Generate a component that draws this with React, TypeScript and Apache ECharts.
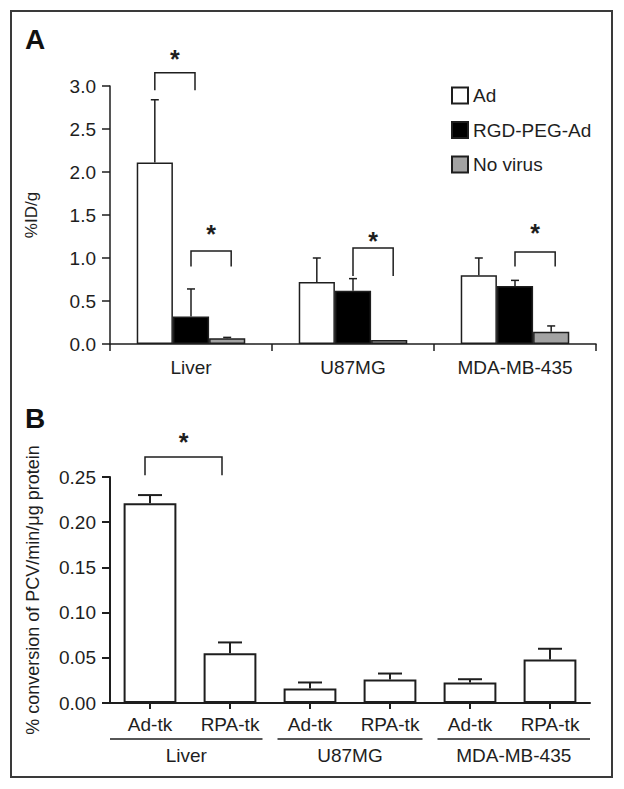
import React, { useEffect, useRef } from 'react';
import * as echarts from 'echarts';

// ---------- Panel A data ----------
const tissues = ['Liver', 'U87MG', 'MDA-MB-435'];
const virusNames = ['Ad', 'RGD-PEG-Ad', 'No virus'];
const adValues = [2.11, 0.72, 0.8];
const adErrors = [0.73, 0.28, 0.2];
const rgdValues = [0.32, 0.62, 0.675];
const rgdErrors = [0.32, 0.14, 0.065];
const noVirusValues = [0.066, 0.047, 0.143];
const noVirusErrors = [0.011, 0, 0.067];
const yTicksA = [0, 0.5, 1, 1.5, 2, 2.5, 3];
// [category, fromBar, toBar, bracketTop, legBottom, starY]
const bracketsA = [
  [0, 0, 1, 3.155, 2.95, 3.38],
  [0, 1, 2, 1.08, 0.9, 1.35],
  [1, 1, 2, 1.116, 0.79, 1.27],
  [2, 1, 2, 1.07, 0.9, 1.36],
];

// ---------- Panel B data ----------
const groupsB = ['Liver', 'U87MG', 'MDA-MB-435'];
const vectorsB = ['Ad-tk', 'RPA-tk'];
const conversionValues = [0.221, 0.055, 0.016, 0.026, 0.0227, 0.048];
const conversionErrors = [0.009, 0.012, 0.0067, 0.0066, 0.0036, 0.012];
const yTicksB = [0, 0.05, 0.1, 0.15, 0.2, 0.25];
// [fromCat, toCat, bracketTop, legBottom, starY]
const bracketsB = [[0, 1, 0.272, 0.252, 0.295]];

export default function App() {
  const ref = useRef<HTMLDivElement>(null);
  useEffect(() => {
    const chart = echarts.init(ref.current!, null, { renderer: 'svg' });
    const font = 'Liberation Sans, Arial, Helvetica, sans-serif';
    const ink = '#1e1e1e';
    const fs = 19;
    const catGapA = 0.33;
    const catGapB = 0.34;

    const seriesValsA = [adValues, rgdValues, noVirusValues];
    const seriesErrsA = [adErrors, rgdErrors, noVirusErrors];
    const fills = ['#ffffff', '#000000', '#a3a3a3'];

    const errDataA: number[][] = [];
    seriesValsA.forEach((vals, s) =>
      vals.forEach((v, i) => errDataA.push([i, s, v, seriesErrsA[s][i]]))
    );

    const catsB: string[] = [];
    groupsB.forEach((g) => vectorsB.forEach((v) => catsB.push(g + '|' + v)));
    const errDataB = conversionValues.map((v, i) => [i, v, conversionErrors[i]]);
    const groupData = groupsB.map((g, gi) => [gi * 2, gi * 2 + 1, gi]);

    const lineStyle = (w: number) => ({ stroke: ink, lineWidth: w });
    const starStyle = (x: number, y: number) => ({
      text: '*', x, y: y + 6, align: 'center', verticalAlign: 'middle',
      fontSize: 25, fontWeight: 'bold', fontFamily: font, fill: ink,
    });

    const option: any = {
      animation: false,
      backgroundColor: '#fff',
      textStyle: { fontFamily: font, color: ink },
      grid: [
        { left: 110, right: 28, top: 86, height: 258 },
        { left: 110, right: 34, top: 477, height: 226 },
      ],
      legend: {
        data: virusNames,
        orient: 'vertical',
        left: 446,
        top: 81,
        icon: 'rect',
        itemWidth: 16,
        itemHeight: 16,
        itemGap: 15.5,
        textStyle: { fontSize: fs, color: ink, fontFamily: font, lineHeight: 18 },
      },
      xAxis: [
        {
          gridIndex: 0,
          type: 'category',
          data: tissues,
          axisLine: { lineStyle: { color: ink, width: 1.5 } },
          axisTick: { show: true, length: 7, lineStyle: { color: ink, width: 1.5 } },
          axisLabel: { fontSize: fs, color: ink, fontFamily: font, margin: 14 },
        },
        {
          gridIndex: 1,
          type: 'category',
          data: catsB,
          axisLine: { lineStyle: { color: ink, width: 2 } },
          axisTick: { show: true, alignWithLabel: true, length: 6, lineStyle: { color: ink, width: 2 } },
          axisLabel: {
            fontSize: fs,
            color: ink,
            fontFamily: font,
            margin: 12,
            interval: 0,
            formatter: (v: string) => v.split('|')[1],
          },
        },
      ],
      yAxis: [
        {
          gridIndex: 0,
          type: 'value',
          min: yTicksA[0],
          max: yTicksA[yTicksA.length - 1],
          interval: 0.5,
          name: '%ID/g',
          nameLocation: 'middle',
          nameGap: 70,
          nameTextStyle: { fontSize: 17, color: ink, fontFamily: font },
          axisLine: { show: true, lineStyle: { color: ink, width: 1.5 } },
          axisTick: { show: true, length: 8, lineStyle: { color: ink, width: 1.5 } },
          splitLine: { show: false },
          axisLabel: { fontSize: fs, color: ink, fontFamily: font, margin: 14, formatter: (v: number) => v.toFixed(1) },
        },
        {
          gridIndex: 1,
          type: 'value',
          min: yTicksB[0],
          max: yTicksB[yTicksB.length - 1],
          interval: 0.05,
          name: '% conversion of PCV/min/\u03bcg protein',
          nameLocation: 'middle',
          nameGap: 68,
          nameTextStyle: { fontSize: 18, color: ink, fontFamily: font },
          axisLine: { show: true, lineStyle: { color: ink, width: 2 } },
          axisTick: { show: true, length: 8, lineStyle: { color: ink, width: 2 } },
          splitLine: { show: false },
          axisLabel: { fontSize: fs, color: ink, fontFamily: font, margin: 14, formatter: (v: number) => v.toFixed(2) },
        },
      ],
      series: [
        ...seriesValsA.map((vals, s) => ({
          type: 'bar',
          name: virusNames[s],
          xAxisIndex: 0,
          yAxisIndex: 0,
          data: vals,
          barGap: '0%',
          barCategoryGap: catGapA * 100 + '%',
          itemStyle: { color: fills[s], borderColor: ink, borderWidth: 1.5 },
          emphasis: { disabled: true },
        })),
        {
          type: 'custom',
          name: 'errA',
          xAxisIndex: 0,
          yAxisIndex: 0,
          z: 5,
          encode: { x: 0, y: 2 },
          data: errDataA,
          renderItem: (params: any, api: any) => {
            const cat = api.value(0);
            const s = api.value(1);
            const v = api.value(2);
            const e = api.value(3);
            if (!(e > 0)) return { type: 'group', children: [] };
            const band = api.size([1, 0])[0];
            const barW = (band * (1 - catGapA)) / 3;
            const base = api.coord([cat, v]);
            const top = api.coord([cat, v + e]);
            const x = base[0] + (s - 1) * barW;
            return {
              type: 'group',
              children: [
                { type: 'line', shape: { x1: x, y1: base[1], x2: x, y2: top[1] }, style: lineStyle(1.5) },
                { type: 'line', shape: { x1: x - 4, y1: top[1], x2: x + 4, y2: top[1] }, style: lineStyle(1.5) },
              ],
            };
          },
        },
        {
          type: 'custom',
          name: 'bracketsA',
          xAxisIndex: 0,
          yAxisIndex: 0,
          z: 6,
          encode: { x: 0, y: 3 },
          data: bracketsA,
          renderItem: (params: any, api: any) => {
            const cat = api.value(0);
            const from = api.value(1);
            const to = api.value(2);
            const band = api.size([1, 0])[0];
            const barW = (band * (1 - catGapA)) / 3;
            const c = api.coord([cat, api.value(3)]);
            const yTop = c[1];
            const yLeg = api.coord([cat, api.value(4)])[1];
            const yStar = api.coord([cat, api.value(5)])[1];
            const x1 = c[0] + (from - 1) * barW;
            const x2 = c[0] + (to - 1) * barW + 4;
            return {
              type: 'group',
              children: [
                { type: 'polyline', shape: { points: [[x1, yLeg], [x1, yTop], [x2, yTop], [x2, yLeg]] }, style: { ...lineStyle(1.5), fill: 'none' } },
                { type: 'text', style: starStyle((x1 + x2) / 2, yStar) },
              ],
            };
          },
        },
        {
          type: 'bar',
          name: 'conversion',
          xAxisIndex: 1,
          yAxisIndex: 1,
          data: conversionValues,
          barCategoryGap: catGapB * 100 + '%',
          itemStyle: { color: '#fff', borderColor: ink, borderWidth: 2 },
          emphasis: { disabled: true },
        },
        {
          type: 'custom',
          name: 'errB',
          xAxisIndex: 1,
          yAxisIndex: 1,
          z: 5,
          encode: { x: 0, y: 1 },
          data: errDataB,
          renderItem: (params: any, api: any) => {
            const cat = api.value(0);
            const v = api.value(1);
            const e = api.value(2);
            const base = api.coord([cat, v]);
            const top = api.coord([cat, v + e]);
            return {
              type: 'group',
              children: [
                { type: 'line', shape: { x1: base[0], y1: base[1], x2: base[0], y2: top[1] }, style: lineStyle(2) },
                { type: 'line', shape: { x1: base[0] - 12, y1: top[1], x2: base[0] + 12, y2: top[1] }, style: lineStyle(2) },
              ],
            };
          },
        },
        {
          type: 'custom',
          name: 'bracketsB',
          xAxisIndex: 1,
          yAxisIndex: 1,
          z: 6,
          encode: { x: 0, y: 2 },
          data: bracketsB,
          renderItem: (params: any, api: any) => {
            const a = api.coord([api.value(0), api.value(2)]);
            const b = api.coord([api.value(1), api.value(2)]);
            const yLeg = api.coord([api.value(0), api.value(3)])[1];
            const yStar = api.coord([api.value(0), api.value(4)])[1];
            const x1 = a[0] - 5;
            const x2 = b[0] - 8;
            return {
              type: 'group',
              children: [
                { type: 'polyline', shape: { points: [[x1, yLeg], [x1, a[1]], [x2, a[1]], [x2, yLeg]] }, style: { ...lineStyle(1.5), fill: 'none' } },
                { type: 'text', style: starStyle((x1 + x2) / 2, yStar) },
              ],
            };
          },
        },
        {
          type: 'custom',
          name: 'groupsB',
          xAxisIndex: 1,
          yAxisIndex: 1,
          z: 6,
          encode: { x: 0 },
          data: groupData,
          renderItem: (params: any, api: any) => {
            const band = api.size([1, 0])[0];
            const first = api.value(0);
            const last = api.value(1);
            const gi = api.value(2);
            const p0 = api.coord([first, 0]);
            const p1 = api.coord([last, 0]);
            const padL = gi === 0 ? 0 : 7.5;
            const padR = gi === groupsB.length - 1 ? 0 : 7.5;
            const xL = p0[0] - band / 2 + padL;
            const xR = p1[0] + band / 2 - padR;
            const yLine = p0[1] + 36;
            return {
              type: 'group',
              children: [
                { type: 'line', shape: { x1: xL, y1: yLine, x2: xR, y2: yLine }, style: lineStyle(1.5) },
                {
                  type: 'text',
                  style: { text: groupsB[gi], x: (xL + xR) / 2, y: yLine + 16, align: 'center', verticalAlign: 'middle', fontSize: fs, fontFamily: font, fill: ink },
                },
              ],
            };
          },
        },
      ],
      graphic: [
        { type: 'rect', shape: { x: 11, y: 11, width: 601, height: 766 }, style: { fill: 'none', stroke: '#3a3a3a', lineWidth: 2 } },
        { type: 'text', x: 25, y: 25, style: { text: 'A', fontSize: 28, fontWeight: 'bold', fontFamily: font, fill: '#111' } },
        { type: 'text', x: 25, y: 404, style: { text: 'B', fontSize: 28, fontWeight: 'bold', fontFamily: font, fill: '#111' } },
      ],
    };

    chart.setOption(option);
    return () => chart.dispose();
  }, []);
  return <div ref={ref} style={{ position: 'absolute', left: 0, top: 0, width: 624, height: 789 }} />;
}
